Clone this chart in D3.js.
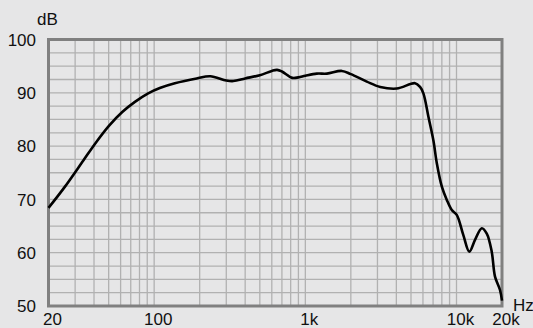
<!DOCTYPE html>
<html>
<head>
<meta charset="utf-8">
<script src="https://cdn.jsdelivr.net/npm/d3@7"></script>
<style>
  html, body { margin: 0; padding: 0; background: #e6e6e7; }
  svg { display: block; }
  text { font-family: "Liberation Sans", Arial, sans-serif; fill: #111; }
</style>
</head>
<body>
<div id="chart"></div>
<script>
// measured response (Hz, dB)
var freqs = [20, 25.7, 34, 41, 50.2, 61.5, 74.6, 91.3, 109, 137, 191, 235, 300, 334, 400, 500,
  600, 650, 700, 820, 900, 1000, 1190, 1390, 1745, 2000, 2550, 3130, 4030, 5320, 5740, 6040, 6520,
  7030, 7410, 8000, 8630, 9310, 10040, 11100, 12160, 13260, 14700, 15860, 17100, 17980, 19400, 20000];
var levels = [68.4, 72.4, 77.3, 80.6, 83.8, 86.4, 88.3, 89.9, 90.9, 91.8, 92.7, 93.1, 92.3, 92.2, 92.7, 93.3,
  94.1, 94.3, 94.0, 92.8, 92.9, 93.2, 93.6, 93.6, 94.1, 93.5, 92.1, 91.1, 90.8, 91.8, 91.1, 89.9, 85.5,
  81.1, 76.8, 72.4, 69.9, 68.0, 67.1, 63.3, 60.2, 62.4, 64.6, 63.6, 60.2, 55.5, 53.0, 51.0];

var gridFreqs = [30, 40, 50, 60, 70, 80, 90, 100, 200, 300, 400, 500, 600, 700, 800, 900,
  1000, 2000, 3000, 4000, 5000, 6000, 7000, 8000, 9000, 10000];
var xTicks = [20, 100, 1000, 10000, 20000];
var xTickLabels = ["20", "100", "1k", "10k", "20k"];
var yTicks = [50, 60, 70, 80, 90, 100];

var width = 533, height = 328;

var x = d3.scaleLog().domain([20, 20000]).range([48.5, 502]);
var y = d3.scaleLinear().domain([50, 100]).range([306, 39.5]);

var svg = d3.select("#chart").append("svg")
    .attr("width", width)
    .attr("height", height);

// grid
var grid = svg.append("g").attr("stroke", "#b1b1b1").attr("stroke-width", 1.3);
grid.selectAll("line.v")
    .data(gridFreqs)
    .enter().append("line")
    .attr("x1", function (d) { return x(d); })
    .attr("x2", function (d) { return x(d); })
    .attr("y1", y(100))
    .attr("y2", y(50));
grid.selectAll("line.h")
    .data(d3.range(52.5, 100, 2.5))
    .enter().append("line")
    .attr("x1", x(20))
    .attr("x2", x(20000))
    .attr("y1", function (d) { return y(d); })
    .attr("y2", function (d) { return y(d); });

// frame
svg.append("rect")
    .attr("x", x(20))
    .attr("y", y(100))
    .attr("width", x(20000) - x(20))
    .attr("height", y(50) - y(100))
    .attr("fill", "none")
    .attr("stroke", "#808080")
    .attr("stroke-width", 3);

// curve
var line = d3.line()
    .x(function (d, i) { return x(freqs[i]); })
    .y(function (d) { return y(d); })
    .curve(d3.curveCatmullRom.alpha(0.5));

svg.append("path")
    .datum(levels)
    .attr("d", line)
    .attr("fill", "none")
    .attr("stroke", "#000")
    .attr("stroke-width", 2.6)
    .attr("stroke-linejoin", "round");

// y labels
svg.selectAll("text.y")
    .data(yTicks)
    .enter().append("text")
    .attr("x", 36)
    .attr("y", function (d) { return y(d); })
    .attr("dy", "0.36em")
    .attr("text-anchor", "end")
    .style("font-size", "17px")
    .text(function (d) { return d; });

svg.append("text")
    .attr("x", 37)
    .attr("y", 25)
    .style("font-size", "17px")
    .text("dB");

// x labels
svg.selectAll("text.x")
    .data(xTicks)
    .enter().append("text")
    .attr("x", function (d) { return x(d) + 4; })
    .attr("y", 325)
    .attr("text-anchor", "middle")
    .style("font-size", "17px")
    .text(function (d, i) { return xTickLabels[i]; });

svg.append("text")
    .attr("x", 513)
    .attr("y", 311)
    .style("font-size", "17px")
    .text("Hz");
</script>
</body>
</html>
